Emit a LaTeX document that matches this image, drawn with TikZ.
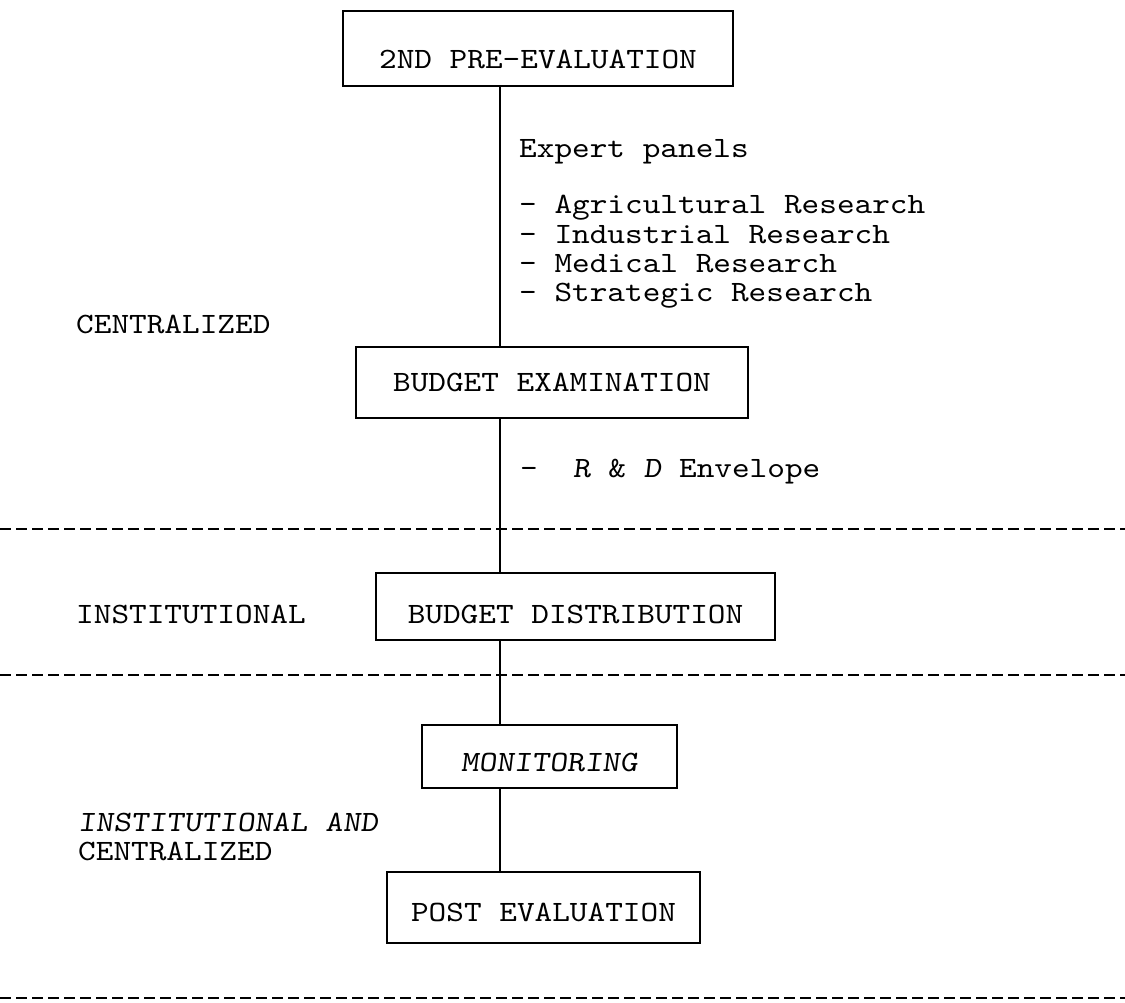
\documentclass[tikz,border=0pt]{standalone}
\usepackage{fontspec}
\newfontfamily\twfont{lmmono10-regular.otf}[FakeStretch=1.14]
\newfontfamily\twslant{lmmono10-regular.otf}[FakeStretch=1.14, FakeSlant=0.12]
\begin{document}
\begin{tikzpicture}[x=1pt,y=-1pt,
  twsize/.style={font=\twfont\fontsize{29.5}{34}\selectfont},
  box/.style={draw, line width=1.4pt, inner sep=0pt, text depth=0pt, twsize, align=center},
  lbl/.style={anchor=base west, inner sep=0pt, twsize},
  conn/.style={line width=1.6pt},
  sepline/.style={line width=1.4pt, dash pattern=on 11pt off 5pt}]
\useasboundingbox (0,0) rectangle (1125,1002);
\coordinate (lx) at (500,0);

% boxes
\node[box, minimum width=390pt, minimum height=75pt, text height=40pt] (b1) at (538,48.5) {2ND PRE-EVALUATION};
\node[box, minimum width=392pt, minimum height=71pt, text height=17pt] (b2) at (552,382.5) {BUDGET EXAMINATION};
\node[box, minimum width=399pt, minimum height=67pt, text height=34pt] (b3) at (575.5,606.5) {BUDGET DISTRIBUTION};
\node[box, minimum width=255pt, minimum height=63pt, text height=30pt] (b4) at (549.5,756.5) {\twslant MONITORING};
\node[box, minimum width=313pt, minimum height=71pt, text height=28pt] (b5) at (543.5,907.5) {POST EVALUATION};

% connectors
\draw[conn] (b1.south -| lx) -- (b2.north -| lx);
\draw[conn] (b2.south -| lx) -- (b3.north -| lx);
\draw[conn] (b3.south -| lx) -- (b4.north -| lx);
\draw[conn] (b4.south -| lx) -- (b5.north -| lx);

% annotations
\node[lbl] (ep) at (519,157) {Expert panels};
\node[lbl] (ag) at (519,213) {- Agricultural Research};
\node[lbl] (in) at (519,243) {- Industrial Research};
\node[lbl] (me) at (519,272) {- Medical Research};
\node[lbl] (st) at (519,301) {- Strategic Research};
\node[lbl] (rd) at (520,477) {-~~{\twslant R} \& {\twslant D} Envelope};

% level labels
\node[lbl] (c1) at (76,333) {CENTRALIZED};
\node[lbl] (i1) at (76,623) {INSTITUTIONAL};
\node[lbl] (i2) at (78,831) {\twslant INSTITUTIONAL AND};
\node[lbl] (c2) at (78,860) {CENTRALIZED};

% separators
\draw[sepline] (0,529) -- (1125,529);
\draw[sepline] (0,675) -- (1125,675);
\draw[sepline] (0,998) -- (1125,998);
\end{tikzpicture}
\end{document}
